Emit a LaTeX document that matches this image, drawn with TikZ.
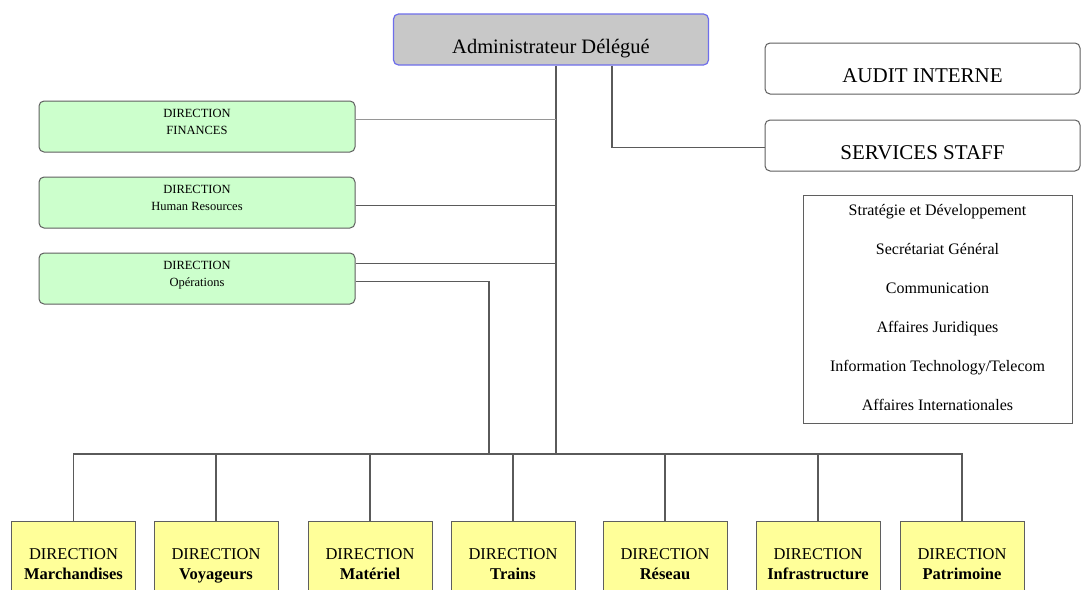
\documentclass[tikz,border=0pt]{standalone}
\usepackage{fontspec}
\setmainfont{Liberation Serif}
\usepackage{tikz}
\usetikzlibrary{positioning, calc}
\definecolor{headgray}{RGB}{200, 200, 200}
\definecolor{headblue}{RGB}{110, 110, 235}
\definecolor{dirgreen}{RGB}{204, 255, 204}
\definecolor{diryellow}{RGB}{255, 255, 153}
\definecolor{edgegray}{RGB}{95, 95, 95}
\definecolor{linkgray}{RGB}{90, 90, 90}
\definecolor{lightlink}{RGB}{150, 150, 150}

\begin{document}
\begin{tikzpicture}[x=1pt, y=-1pt,
  headbox/.style={draw=headblue, fill=headgray, line width=1.2pt, rounded corners=5pt, minimum width=315pt, inner sep=0pt, text height=39.5pt, text depth=11.5pt, font=\fontsize{20.5pt}{24pt}\selectfont},
  staffbox/.style={draw=edgegray, fill=white, line width=1pt, rounded corners=5pt, minimum width=315pt, inner sep=0pt, text height=39.5pt, text depth=11.5pt, font=\fontsize{21pt}{24pt}\selectfont},
  greenbox/.style={draw=edgegray, fill=dirgreen, line width=1pt, rounded corners=5pt, minimum width=316pt, inner sep=0pt, text height=33pt, text depth=18pt, align=center, font=\fontsize{12.5pt}{17pt}\selectfont},
  yellowbox/.style={draw=edgegray, fill=diryellow, line width=1pt, minimum width=124pt, inner sep=0pt, text height=58pt, text depth=30.5pt, align=center, font=\fontsize{16.5pt}{19.5pt}\selectfont},
  link/.style={draw=linkgray, line width=1.2pt}]

  \useasboundingbox[fill=white] (0,0) rectangle (1086,589);
  \clip (0,0) rectangle (1086,589);

  % Head
  \node[headbox] (head) at (551, 39.5) {Administrateur Délégué};

  % Staff boxes on the right
  \node[staffbox] (audit) at (922.5, 68.5) {AUDIT INTERNE};
  \node[staffbox] (services) at (922.5, 145.5) {SERVICES STAFF};
  \node[draw=edgegray, line width=1pt, minimum width=269pt, inner sep=0pt, text height=215pt, text depth=13pt, align=center, font=\fontsize{16pt}{39pt}\selectfont] (servlist) at (937.5, 309) {
    Stratégie et Développement\\
    Secrétariat Général\\
    Communication\\
    Affaires Juridiques\\
    Information Technology/Telecom\\
    Affaires Internationales
  };

  % Directions on the left
  \node[greenbox] (fin) at (197, 126.5) {DIRECTION\\FINANCES};
  \node[greenbox] (hr) at (197, 202.5) {DIRECTION\\Human Resources};
  \node[greenbox] (ops) at (197, 278.5) {DIRECTION\\Opérations};

  % Operational directions
  \node[yellowbox] (marchandises) at (73.5, 565.25) {DIRECTION\\\textbf{Marchandises}};
  \node[yellowbox] (voyageurs) at (216, 565.25) {DIRECTION\\\textbf{Voyageurs}};
  \node[yellowbox] (materiel) at (370, 565.25) {DIRECTION\\\textbf{Matériel}};
  \node[yellowbox] (trains) at (513, 565.25) {DIRECTION\\\textbf{Trains}};
  \node[yellowbox] (reseau) at (665, 565.25) {DIRECTION\\\textbf{Réseau}};
  \node[yellowbox] (infra) at (818, 565.25) {DIRECTION\\\textbf{Infrastructure}};
  \node[yellowbox] (patrimoine) at (962, 565.25) {DIRECTION\\\textbf{Patrimoine}};

  % Links
  \coordinate (bus) at (556, 454);
  \coordinate (opsdrop) at (489, 454);
  \draw[link] (head.south -| bus) -- (bus);
  \draw[link] ([xshift=61pt]head.south) |- ([yshift=-2pt]services.west);
  \draw[link, draw=lightlink] ([yshift=7pt]fin.east) -- ([yshift=7pt]fin.east -| bus);
  \draw[link] ([yshift=-3pt]hr.east) -- ([yshift=-3pt]hr.east -| bus);
  \draw[link] ([yshift=15pt]ops.east) -- ([yshift=15pt]ops.east -| bus);
  \draw[link] ([yshift=-3pt]ops.east) -| (opsdrop);
  \draw[link] (marchandises.north) |- (bus) -| (patrimoine.north);
  \foreach \d in {voyageurs, materiel, trains, reseau, infra}
    \draw[link] (\d.north) -- (\d.north |- bus);
\end{tikzpicture}
\end{document}
